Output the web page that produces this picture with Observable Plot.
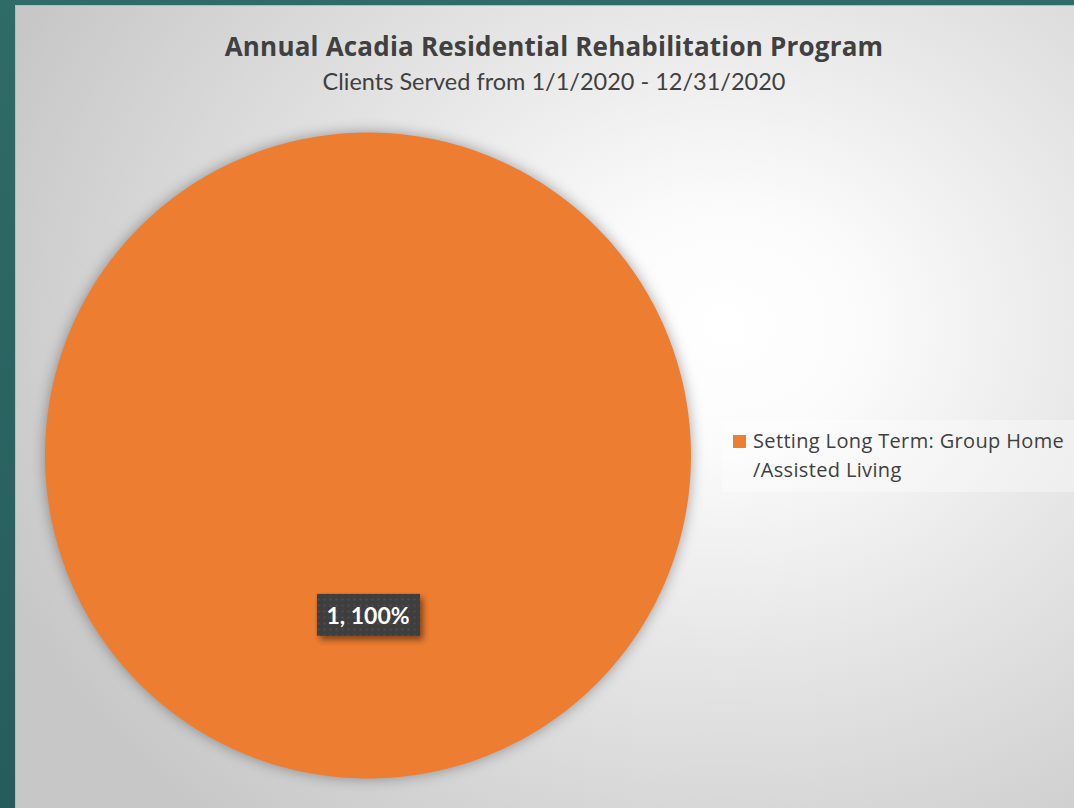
<!DOCTYPE html>
<html><head><meta charset="utf-8">
<script src="https://cdn.jsdelivr.net/npm/d3@7"></script>
<script src="https://cdn.jsdelivr.net/npm/@observablehq/plot@0.6"></script>
<style>
html,body{margin:0;padding:0;width:1074px;height:808px;overflow:hidden;background:linear-gradient(180deg,#2f6b67 0%,#255d5c 100%);}
#frame{position:absolute;left:15px;top:5px;width:1059px;height:803px;overflow:hidden;
  box-shadow: inset 1px 1px 0 #b9b9b9;
  background:radial-gradient(ellipse 74% 82% at 67% 40%, #ffffff 0%, #fbfbfb 18%, #e6e6e6 50%, #c7c7c7 100%);}
#title{position:absolute;left:0;top:28px;width:1078px;text-align:center;font:bold 26px "Open Sans",sans-serif;letter-spacing:0.2px;line-height:1;color:#404040;white-space:nowrap;}
#subtitle{position:absolute;left:0;top:65px;width:1078px;text-align:center;font:23.5px Lato,sans-serif;line-height:1;color:#404040;white-space:nowrap;}
#chart{position:absolute;left:0;top:105px;}
#chart svg g[aria-label=line] path{filter:drop-shadow(0 0 7px rgba(0,0,0,0.35));}
#legend{position:absolute;left:707px;top:415px;width:352px;height:72px;background:rgba(255,255,255,0.35);}
.lg-item{position:absolute;left:11px;top:6px;}
.lg-sw{position:absolute;left:0;top:9px;width:13px;height:13px;}
.lg-tx{position:absolute;left:20px;top:0;font:20px "Open Sans",sans-serif;letter-spacing:0.35px;line-height:29px;color:#404040;white-space:nowrap;}
</style></head><body>
<div id="frame">
  <div id="title"></div>
  <div id="subtitle"></div>
  <div id="chart"></div>
  <div id="legend"></div>
</div>
<script>
const titleText = "Annual Acadia Residential Rehabilitation Program";
const subtitleText = "Clients Served from 1/1/2020 - 12/31/2020";
const categories = ["Setting Long Term: Group Home\n/Assisted Living"];
const values = [1];
const colors = ["#ED7D31"];

document.getElementById("title").textContent = titleText;
document.getElementById("subtitle").textContent = subtitleText;

const total = d3.sum(values);
const arcs = d3.pie().sort(null)(values);
const outline = [];
arcs.forEach((a, i) => {
  const n = Math.max(2, Math.ceil((a.endAngle - a.startAngle) / (Math.PI / 180)));
  const full = a.endAngle - a.startAngle >= 2 * Math.PI - 1e-9;
  if (!full) outline.push({cat: categories[i], x: 0, y: 0});
  for (let k = 0; k <= n; k++) {
    const t = a.startAngle + (a.endAngle - a.startAngle) * k / n;
    outline.push({cat: categories[i], x: Math.sin(t), y: Math.cos(t)});
  }
  if (!full) outline.push({cat: categories[i], x: 0, y: 0});
});
const labels = arcs.map((a, i) => {
  const m = (a.startAngle + a.endAngle) / 2;
  return {x: 0.5 * Math.sin(m), y: 0.5 * Math.cos(m), text: `${values[i]}, ${d3.format(".0%")(values[i] / total)}`};
});

const cx = 352.5, cy = 345, R = 323;
const plot = Plot.plot({
  width: 1059, height: 698,
  margin: 0,
  x: {domain: [-1, 1], range: [cx - R, cx + R], axis: null},
  y: {domain: [-1, 1], range: [cy + R, cy - R], axis: null},
  color: {domain: categories, range: colors},
  style: {background: "transparent", overflow: "visible"},
  marks: [
    Plot.line(outline, {x: "x", y: "y", z: "cat", fill: "cat", stroke: "none", curve: "linear"}),
    Plot.text(labels, {x: "x", y: "y", text: "text", fill: "white", fontSize: 23, fontWeight: "bold", fontFamily: "Lato, sans-serif", textAnchor: "middle"})
  ]
});
document.getElementById("chart").appendChild(plot);

// label boxes behind text
const svg = d3.select(plot);
const defs = svg.insert("defs", ":first-child");
const pat = defs.append("pattern").attr("id", "dots").attr("width", 6).attr("height", 6).attr("patternUnits", "userSpaceOnUse");
pat.append("rect").attr("width", 6).attr("height", 6).attr("fill", "#3e3e3e");
pat.append("rect").attr("x", 2).attr("y", 2).attr("width", 2).attr("height", 2).attr("fill", "#4d4d4d");
const sb = plot.getBoundingClientRect();
svg.selectAll("g[aria-label=text] text").each(function() {
  const b = this.getBoundingClientRect();
  const g = this.parentNode;
  const h = 42, w = b.width + 20;
  const mx = b.left - sb.left + b.width / 2, my = b.top - sb.top + b.height / 2 - 1;
  d3.select(g).insert("rect", ":first-child")
    .attr("x", mx - w / 2).attr("y", my - h / 2).attr("width", w).attr("height", h)
    .attr("fill", "url(#dots)")
    .style("filter", "drop-shadow(3px 4px 3px rgba(0,0,0,0.45))");
});

// legend
const lg = d3.select("#legend");
categories.forEach((c, i) => {
  const it = lg.append("div").attr("class", "lg-item").style("top", (6 + i * 60) + "px");
  it.append("div").attr("class", "lg-sw").style("background", colors[i]);
  const tx = it.append("div").attr("class", "lg-tx");
  c.split("\n").forEach((line, j) => { if (j) tx.append("br"); tx.append("span").text(line); });
});
</script>
</body></html>
